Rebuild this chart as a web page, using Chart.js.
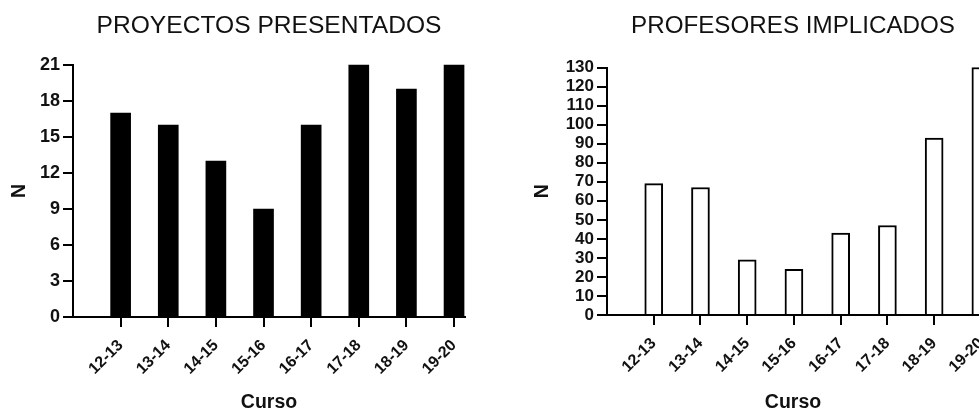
<!DOCTYPE html>
<html>
<head>
<meta charset="utf-8">
<script src="https://cdn.jsdelivr.net/npm/chart.js@4"></script>
<style>
  html, body { margin: 0; padding: 0; background: #fff; overflow: hidden; width: 979px; height: 413px; }
  #left { position: absolute; left: 0; top: 0; }
  #right { position: absolute; left: 490px; top: 0; }
</style>
</head>
<body>
<canvas id="left" width="490" height="413"></canvas>
<canvas id="right" width="489" height="413"></canvas>
<script>
const cursos = ["12-13", "13-14", "14-15", "15-16", "16-17", "17-18", "18-19", "19-20"];
const proyectos = [17, 16, 13, 9, 16, 21, 19, 21];
const profesores = [69, 67, 29, 24, 43, 47, 93, 130];

const fontFamily = "'Liberation Sans', Arial, sans-serif";
Chart.defaults.font.family = fontFamily;
Chart.defaults.color = "#111";

// stretch the x axis line a bit left of the y axis, like the original
const axisStub = {
    id: 'axisStub',
    afterDraw(chart) {
        const ctx = chart.ctx;
        const a = chart.chartArea;
        ctx.save();
        ctx.strokeStyle = "#000";
        ctx.lineWidth = 2;
        ctx.beginPath();
        ctx.moveTo(a.left - 10, a.bottom);
        ctx.lineTo(a.left, a.bottom);
        ctx.stroke();
        ctx.restore();
    }
};

function makeChart(id, opts) {
    const ctx = document.getElementById(id);
    return new Chart(ctx, {
        type: 'bar',
        data: {
            datasets: [{
                data: opts.values.map((v, i) => ({ x: i, y: v })),
                backgroundColor: opts.fill,
                borderColor: "#000",
                borderWidth: opts.border,
                barThickness: opts.barWidth,
                clip: false
            }]
        },
        plugins: [axisStub],
        options: {
            responsive: false,
            animation: false,
            layout: { padding: opts.padding },
            plugins: {
                legend: { display: false },
                tooltip: { enabled: false },
                title: {
                    display: true,
                    fullSize: false,
                    text: opts.title,
                    font: { size: opts.titleFont, weight: 'normal' },
                    color: "#111",
                    padding: { top: 11.5, bottom: opts.titleGap }
                }
            },
            scales: {
                x: {
                    type: 'linear',
                    offset: false,
                    min: -1,
                    max: opts.xMax,
                    afterBuildTicks: scale => {
                        scale.ticks = cursos.map((c, i) => ({ value: i }));
                    },
                    afterFit: scale => {
                        scale.height = opts.xHeight;
                        scale.paddingRight = 0;
                    },
                    ticks: {
                        callback: v => cursos[v],
                        minRotation: 45,
                        maxRotation: 45,
                        autoSkip: false,
                        padding: 9,
                        font: { size: 16, weight: 'bold' },
                        color: "#111"
                    },
                    grid: { offset: false, drawOnChartArea: false, drawTicks: true, tickLength: 10, color: "#000", lineWidth: 2 },
                    border: { color: "#000", width: 2 },
                    title: {
                        display: true,
                        text: "Curso",
                        font: { size: 19.5, weight: 'bold' },
                        color: "#111",
                        padding: { top: 0, bottom: -1 }
                    }
                },
                y: {
                    min: 0,
                    max: opts.yMax,
                    afterFit: scale => { scale.width = opts.yWidth; },
                    ticks: {
                        stepSize: opts.step,
                        autoSkip: false,
                        padding: 3,
                        font: { size: opts.yFont, weight: 'bold' },
                        color: "#111"
                    },
                    grid: { drawOnChartArea: false, drawTicks: true, tickLength: 10, color: "#000", lineWidth: 2 },
                    border: { color: "#000", width: 2 },
                    title: {
                        display: true,
                        text: "N",
                        font: { size: 19.5, weight: 'bold' },
                        color: "#111",
                        padding: { top: opts.nGap, bottom: 0 }
                    }
                }
            }
        }
    });
}

makeChart("left", {
    values: proyectos,
    title: "PROYECTOS PRESENTADOS",
    titleFont: 24.6,
    fill: "#000",
    border: 0,
    barWidth: 20,
    xMax: 7.23,
    yMax: 21,
    step: 3,
    yFont: 18,
    yWidth: 73,
    xHeight: 96,
    titleGap: 24,
    nGap: 8,
    padding: { left: 0, right: 25, top: 0, bottom: 0 }
});

makeChart("right", {
    values: profesores,
    title: "PROFESORES IMPLICADOS",
    titleFont: 24.2,
    fill: "#fff",
    border: 2,
    barWidth: 18,
    xMax: 6.96,
    yMax: 130,
    step: 10,
    yFont: 17,
    yWidth: 117,
    xHeight: 98,
    titleGap: 27,
    nGap: 41,
    padding: { left: 0, right: 0, top: 0, bottom: 0 }
});
</script>
</body>
</html>
